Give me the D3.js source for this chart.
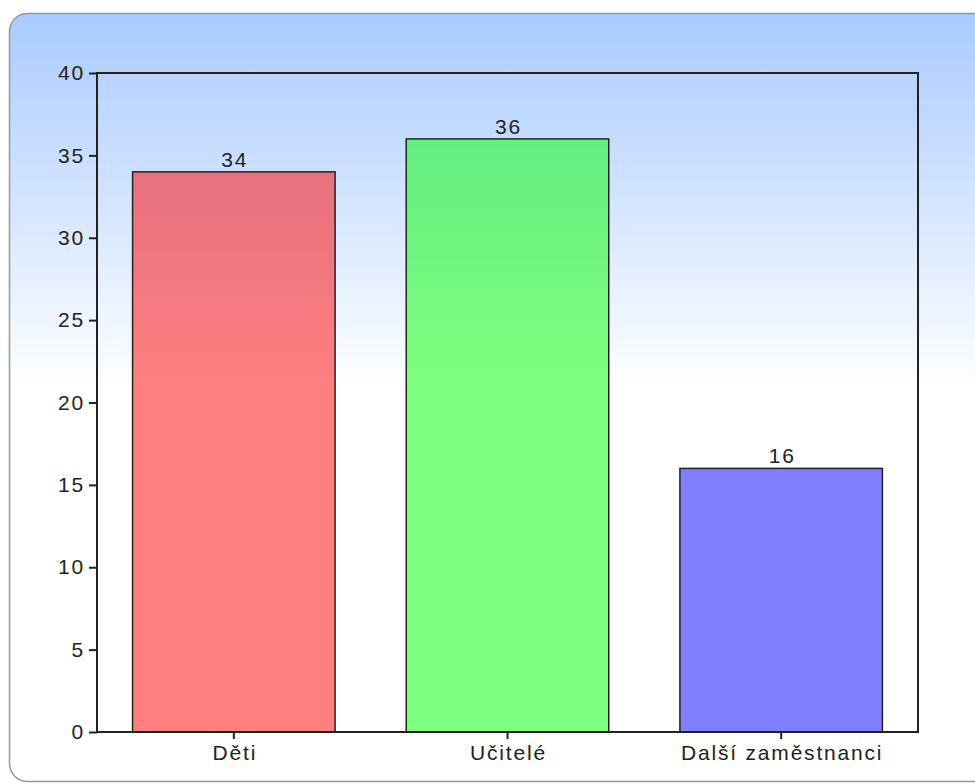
<!DOCTYPE html>
<html>
<head>
<meta charset="utf-8">
<script src="https://cdn.jsdelivr.net/npm/d3@7"></script>
<style>
	html, body { margin: 0; padding: 0; background: #fff; }
	svg { display: block; }
	.axis text, .value-label {
		font-family: "Liberation Sans", Arial, sans-serif;
		font-size: 21px;
		letter-spacing: 1.8px;
		fill: #222;
	}
</style>
</head>
<body>
<div id="chart"></div>
<script>
// data
const categories = ["Děti", "Učitelé", "Další zaměstnanci"];
const values = [34, 36, 16];
const barColors = ["rgba(255,0,0,0.5)", "rgba(0,255,0,0.5)", "rgba(0,0,255,0.5)"];
const yTicks = [0, 5, 10, 15, 20, 25, 30, 35, 40];

const W = 975, H = 784;
const margin = { top: 73, right: 57, bottom: 52, left: 97 };
const width = W - margin.left - margin.right;
const height = H - margin.top - margin.bottom;

const svg = d3.select("#chart").append("svg")
	.attr("width", W)
	.attr("height", H);

// achtergrond paneel met verloop
const defs = svg.append("defs");
const grad = defs.append("linearGradient")
	.attr("id", "bg-grad")
	.attr("x1", 0).attr("y1", 0).attr("x2", 0).attr("y2", 1);
grad.append("stop").attr("offset", "0%").attr("stop-color", "#a9cbff");
grad.append("stop").attr("offset", "49%").attr("stop-color", "#ffffff");
grad.append("stop").attr("offset", "100%").attr("stop-color", "#ffffff");

svg.append("rect")
	.attr("x", 9.5).attr("y", 13.5)
	.attr("width", 990).attr("height", 768)
	.attr("rx", 18).attr("ry", 18)
	.attr("fill", "url(#bg-grad)")
	.attr("stroke", "#999")
	.attr("stroke-width", 1.5);

const g = svg.append("g")
	.attr("transform", `translate(${margin.left}, ${margin.top})`);

const x = d3.scaleBand()
	.domain(categories)
	.range([0, width])
	.paddingInner(0.26)
	.paddingOuter(0.13);

const y = d3.scaleLinear()
	.domain([0, 40])
	.range([height, 0]);

// bars
g.selectAll(".bar")
	.data(categories)
	.enter()
	.append("rect")
	.attr("class", "bar")
	.attr("x", d => x(d))
	.attr("y", (d, i) => y(values[i]))
	.attr("width", x.bandwidth())
	.attr("height", (d, i) => height - y(values[i]))
	.attr("fill", (d, i) => barColors[i])
	.attr("stroke", "#222")
	.attr("stroke-width", 1.5);

// labels boven de bars
g.selectAll(".value-label")
	.data(categories)
	.enter()
	.append("text")
	.attr("class", "value-label")
	.attr("x", d => x(d) + x.bandwidth() / 2 + 1)
	.attr("y", (d, i) => y(values[i]) - 5)
	.attr("text-anchor", "middle")
	.text((d, i) => values[i]);

// kader
g.append("rect")
	.attr("x", 0).attr("y", 0)
	.attr("width", width).attr("height", height)
	.attr("fill", "none")
	.attr("stroke", "#222")
	.attr("stroke-width", 2);

// assen
const yAxis = d3.axisLeft(y).tickValues(yTicks).tickSize(8).tickPadding(4);
const yAxisGroup = g.append("g").attr("class", "y-axis axis").call(yAxis);
yAxisGroup.select(".domain").remove();
yAxisGroup.selectAll(".tick line").attr("stroke", "#222").attr("stroke-width", 2);

const xAxis = d3.axisBottom(x).tickSize(7).tickPadding(6);
const xAxisGroup = g.append("g")
	.attr("class", "x-axis axis")
	.attr("transform", `translate(0, ${height})`)
	.call(xAxis);
xAxisGroup.select(".domain").remove();
xAxisGroup.selectAll(".tick line").attr("stroke", "#222").attr("stroke-width", 2);
xAxisGroup.selectAll(".tick text").attr("dx", "1");
</script>
</body>
</html>
